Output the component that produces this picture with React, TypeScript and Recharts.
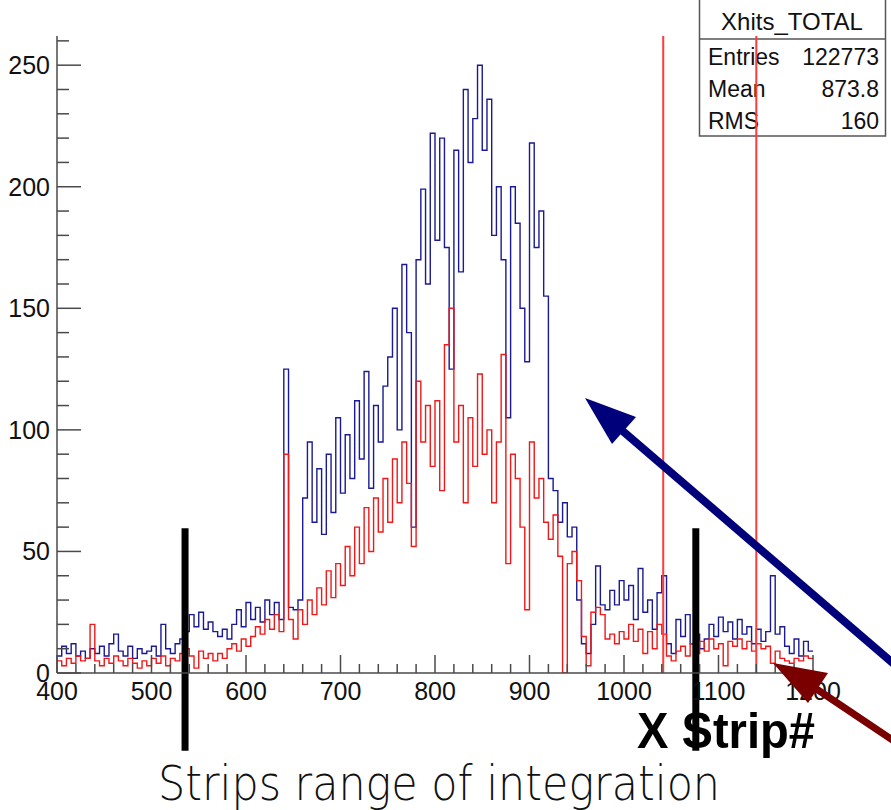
import React from 'react';
import {
  ComposedChart,
  Line,
  XAxis,
  YAxis,
  ReferenceLine,
  Customized,
} from 'recharts';

// Histogram bins: 5 strips each, starting at strip 400
const BIN_START = 400;
const BIN_WIDTH = 5;

const blueCounts = [
  7, 11, 8, 12, 7, 9, 6, 10, 8, 11,
  7, 12, 16, 9, 7, 11, 6, 10, 8, 9,
  11, 7, 20, 10, 8, 12, 14, 17, 24, 19,
  25, 18, 21, 17, 15, 18, 14, 20, 26, 19,
  29, 22, 27, 21, 30, 24, 29, 22, 125, 27,
  26, 30, 72, 95, 62, 84, 57, 90, 66, 105,
  74, 98, 80, 112, 88, 124, 76, 110, 95, 118,
  130, 150, 100, 168, 140, 60, 170, 199, 160, 222,
  178, 220, 175, 125, 215, 165, 240, 210, 228, 250,
  215, 236, 180, 200, 170, 105, 200, 185, 150, 128,
  218, 175, 190, 155, 80, 75, 62, 70, 56, 60,
  30, 12, 8, 20, 44, 28, 26, 34, 28, 38,
  30, 36, 22, 43, 25, 30, 18, 33, 40, 12,
  8, 22, 15, 24, 12, 16, 10, 14, 20, 15,
  23, 17, 21, 14, 22, 16, 19, 12, 18, 13,
  17, 40, 16, 19, 11, 8, 14, 7, 13, 9,
];

const redCounts = [
  5, 3, 6, 4, 7, 5, 6, 20, 5, 3,
  6, 4, 7, 5, 3, 6, 4, 2, 5, 3,
  6, 4, 7, 3, 6, 5, 8, 10, 7, 2,
  9, 6, 8, 5, 8, 6, 10, 12, 9, 14,
  11, 15, 19, 16, 22, 18, 24, 17, 90, 22,
  14, 26, 20, 30, 24, 35, 28, 42, 31, 45,
  36, 52, 40, 60, 45, 68, 50, 72, 58, 80,
  62, 88, 70, 95, 78, 52, 120, 95, 110, 85,
  112, 75, 135, 150, 95, 110, 70, 105, 85, 123,
  90, 100, 70, 95, 131, 45, 90, 80, 60, 26,
  95, 72, 80, 62, 55, 65, 48, 0, 45, 50,
  38, 15, 3, 25, 27, 24, 14, 16, 12, 17,
  14, 20, 13, 18, 8, 17, 10, 20, 16, 7,
  5, 9, 11, 7, 12, 8, 13, 9, 14, 10,
  12, 3, 13, 11, 14, 10, 13, 9, 12, 10,
  11, 4, 9, 6, 5, 4, 6, 5, 7, 6,
];

const xTicks = [
  400, 420, 440, 460, 480, 500, 520, 540, 560, 580,
  600, 620, 640, 660, 680, 700, 720, 740, 760, 780,
  800, 820, 840, 860, 880, 900, 920, 940, 960, 980,
  1000, 1020, 1040, 1060, 1080, 1100, 1120, 1140, 1160, 1180, 1200,
];
const yTicks = [0, 10, 20, 30, 40, 50, 60, 70, 80, 90, 100, 110, 120, 130, 140, 150, 160, 170, 180, 190, 200, 210, 220, 230, 240, 250, 260];

const markerStrips = [1041.5, 1140];
const integrationLimits = [535.5, 1076];

const statsTitle = 'Xhits_TOTAL';
const statsLabels = ['Entries', 'Mean', 'RMS'];
const statsValues = ['122773', '873.8', '160'];

const chartData = blueCounts.map((b, i) => ({
  strip: BIN_START + i * BIN_WIDTH,
  blue: b,
  red: redCounts[i],
}));
// close the last bin
chartData.push({
  strip: BIN_START + blueCounts.length * BIN_WIDTH,
  blue: blueCounts[blueCounts.length - 1],
  red: redCounts[redCounts.length - 1],
});

const FONT = '"Liberation Sans", Arial, sans-serif';
const AXIS = '#4a4a4a';

const XTick = ({ x, y, payload }: any) => {
  const major = payload.value % 100 === 0;
  return (
    <g>
      <line x1={x} x2={x} y1={y} y2={y - (major ? 18 : 9)} stroke={AXIS} strokeWidth={1.5} />
      {major && (
        <text x={x} y={y + 27} textAnchor="middle" fontSize={25} fontFamily={FONT} fill="#111">
          {payload.value}
        </text>
      )}
    </g>
  );
};

const YTick = ({ x, y, payload }: any) => {
  const major = payload.value % 50 === 0;
  return (
    <g>
      <line x1={x} x2={x + (major ? 24 : 12)} y1={y} y2={y} stroke={AXIS} strokeWidth={1.5} />
      {major && (
        <text x={x - 7} y={y + 9} textAnchor="end" fontSize={25} fontFamily={FONT} fill="#111">
          {payload.value}
        </text>
      )}
    </g>
  );
};

const StatsBox = () => (
  <g>
    <rect x={699.5} y={-1} width={186} height={137} fill="#fff" stroke="#555" strokeWidth={1.5} />
    <line x1={699.5} x2={885.5} y1={39} y2={39} stroke="#555" strokeWidth={1.5} />
    <text x={792} y={30} textAnchor="middle" fontSize={24} fontFamily={FONT} fill="#111">
      {statsTitle}
    </text>
    {statsLabels.map((label, i) => (
      <g key={label}>
        <text x={708} y={65 + i * 32} fontSize={23} fontFamily={FONT} fill="#111">{label}</text>
        <text x={879} y={65 + i * 32} textAnchor="end" fontSize={23} fontFamily={FONT} fill="#111">
          {statsValues[i]}
        </text>
      </g>
    ))}
  </g>
);

export default function App() {
  return (
    <div style={{ position: 'absolute', left: 0, top: 0, width: 891, height: 810, background: '#fff' }}>
      <ComposedChart
        width={891}
        height={810}
        data={chartData}
        margin={{ top: 36, right: 78, bottom: 0, left: 0 }}
      >
        <XAxis
          dataKey="strip"
          type="number"
          domain={[400, 1200]}
          ticks={xTicks}
          interval={0}
          height={137}
          tickSize={0}
          tickMargin={0}
          tickLine={false}
          tick={<XTick />}
          axisLine={{ stroke: AXIS, strokeWidth: 1.5 }}
          allowDataOverflow
        />
        <XAxis
          xAxisId="top"
          dataKey="strip"
          type="number"
          domain={[400, 1200]}
          orientation="top"
          height={0}
          tick={false}
          tickLine={false}
          axisLine={{ stroke: '#666', strokeWidth: 2 }}
        />
        <YAxis
          type="number"
          domain={[0, 262]}
          ticks={yTicks}
          interval={0}
          width={57}
          tickSize={0}
          tickMargin={0}
          tickLine={false}
          tick={<YTick />}
          axisLine={{ stroke: AXIS, strokeWidth: 1.5 }}
          allowDataOverflow
        />
        <YAxis
          yAxisId="right"
          orientation="right"
          domain={[0, 262]}
          width={0}
          tick={false}
          tickLine={false}
          axisLine={{ stroke: '#555', strokeWidth: 1.5 }}
        />
        <Line
          type="stepAfter"
          dataKey="blue"
          stroke="#1a1a94"
          strokeWidth={1.4}
          dot={false}
          isAnimationActive={false}
        />
        <Line
          type="stepAfter"
          dataKey="red"
          stroke="#f01818"
          strokeWidth={1.4}
          dot={false}
          isAnimationActive={false}
        />
        <Customized component={StatsBox} />
        {markerStrips.map((s) => (
          <ReferenceLine key={s} x={s} stroke="#ff3b3b" strokeWidth={2} />
        ))}
        {integrationLimits.map((s) => (
          <ReferenceLine
            key={s}
            segment={[{ x: s, y: -32 }, { x: s, y: 59.5 }]}
            stroke="#000"
            strokeWidth={7}
            ifOverflow="visible"
          />
        ))}
      </ComposedChart>
      <svg
        width={891}
        height={810}
        style={{ position: 'absolute', left: 0, top: 0, pointerEvents: 'none' }}
      >
        <line x1={895} y1={665} x2={618} y2={427} stroke="#00007a" strokeWidth={8} />
        <polygon points="585,398 636,417 612,444" fill="#00007a" />
        <line x1={897} y1={743} x2={812} y2={686} stroke="#7a0000" strokeWidth={7} />
        <polygon points="773,663 828,673 808,703" fill="#7a0000" />
        <text
          x={637}
          y={748}
          fontSize={50}
          fontWeight="bold"
          fontFamily={FONT}
          textLength={178}
          lengthAdjust="spacingAndGlyphs"
          fill="#000"
        >
          X Strip#
        </text>
        <text
          x={158}
          y={800}
          fontSize={48}
          fontWeight={200}
          fontFamily='"DejaVu Sans", sans-serif'
          textLength={562}
          lengthAdjust="spacingAndGlyphs"
          fill="#111"
        >
          Strips range of integration
        </text>
      </svg>
    </div>
  );
}
